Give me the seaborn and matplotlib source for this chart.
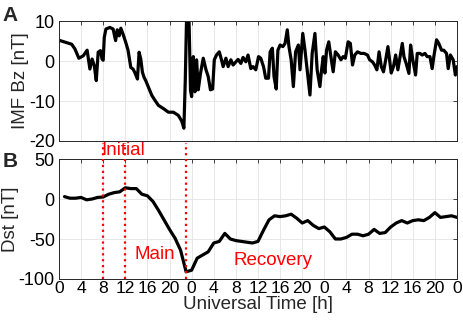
import numpy as np
import matplotlib
matplotlib.use('Agg')
import matplotlib.pyplot as plt
import pandas as pd
import seaborn as sns

# IMF Bz (nT) at irregular times (hours from start)
bz_hours = [0.0, 1.4, 2.3, 2.9, 3.6, 4.4, 5.1, 5.6, 6.0, 6.4, 6.75, 7.1, 7.5, 7.8, 8.0,
            8.2, 8.5, 9.2, 9.8, 10.25, 10.55, 10.9, 11.2, 11.6, 12.1, 12.5, 13.0, 13.4,
            13.7, 14.2, 14.5, 14.8, 15.1, 15.4, 15.7, 16.2, 16.8, 17.4, 18.0, 18.9, 19.8,
            20.7, 21.6, 22.2, 22.6, 22.85, 23.1, 23.5, 23.8,
            24.0, 24.3, 24.6, 24.9, 25.2, 25.6, 26.1, 26.6, 27.0, 27.4, 27.8, 28.1, 28.5,
            29.0, 29.4, 29.7, 30.2, 30.6, 31.1, 31.5, 32.0, 32.4, 32.9, 33.3, 33.8, 34.2,
            34.7, 35.1, 35.6, 36.1, 36.5, 37.0, 37.4, 37.9, 38.2, 38.6, 38.9, 39.3, 39.6,
            40.0, 40.5, 40.9, 41.3, 41.6, 42.0, 42.4, 42.8, 43.3, 43.6, 44.1, 44.5, 45.0,
            45.4, 45.8, 46.3, 46.7,
            47.2, 47.5, 47.8, 48.1, 48.4, 48.8, 49.1, 49.6, 50.0, 50.5, 51.0, 51.4, 51.8,
            52.3, 52.7, 53.1, 53.5, 54.0, 54.6, 55.2, 55.8, 56.2, 56.7, 57.1, 57.5, 57.9,
            58.3, 58.7, 59.1, 59.5, 59.8, 60.1, 60.5, 60.9, 61.3, 61.7, 62.1, 62.4, 62.8,
            63.3, 63.6, 64.0, 64.5, 64.8, 65.3, 65.7, 66.2, 66.6, 67.1, 67.5, 67.8, 68.3,
            68.7, 69.2, 69.6, 70.1, 70.4, 70.8, 71.3, 71.7, 72.0]
bz_values = [5.2, 4.6, 4.2, 3.0, 0.7, 1.3, 2.7, -2.0, 0.5, -1.2, -4.9, 2.2, 2.6, 0.5, 0.2,
             5.9, 8.0, 8.4, 8.0, 5.1, 7.8, 6.3, 8.2, 6.7, 4.6, 2.7, -1.6, -2.0,
             -2.8, -4.5, 2.2, 0.5, -2.8, -4.1, -4.9, -6.6, -8.6, -9.9, -11.1, -11.9, -12.8,
             -12.8, -13.6, -15.0, -16.8, -4.9, 12.0, 12.0, -7.4,
             -8.9, 1.1, -7.7, 0.3, -7.2, -3.1, 0.7, -2.2, -3.9, -7.2, -7.0, 0.3, 1.5,
             2.3, 0.3, -1.4, 0.7, -1.4, 0.3, -1.0, -0.2, 0.4, -0.6, 0.9, -0.2, 1.5,
             -1.9, -1.4, -2.2, 1.1, 0.7, -1.4, -4.3, -4.3, 2.3, 3.2, -3.9, -7.0, 2.7,
             4.0, 3.6, 4.4, 7.8, 3.6, 0.3, -6.4, 2.3, 4.0, -2.2, 6.9, 2.7, -3.5,
             -8.5, 1.9, 6.9, -2.2,
             -6.4, -2.2, 1.1, -3.0, 2.7, 4.8, 1.9, -2.7, 2.3, 1.5, 0.3, 1.1, 0.7,
             4.8, 4.4, -1.0, 1.5, 2.3, 1.9, 1.9, 1.5, 0.3, -0.2, -1.0, -2.2, 2.3,
             -1.4, -2.7, 0.3, 3.6, 0.3, -3.0, -1.4, 1.5, -2.2, 1.1, 4.4, 1.1, -0.6,
             -3.1, 4.0, 0.3, -3.5, 1.9, 1.9, 1.5, 1.9, 1.1, 1.1, -1.9, 1.1, 5.3,
             4.4, 2.7, 2.7, 1.9, -1.9, 1.5, 0.3, -3.5, -1.4]

# Dst index (nT), hourly values
dst_hours = list(range(1, 73))
dst_values = [3, 1, 1, 2, -1, 0, 2, 2.5, 6, 8, 9, 14, 13, 13, 6, 4, -3, -14, -26, -38,
              -49, -64, -91, -89, -74, -70, -66, -55, -53, -43, -50, -52, -53, -54, -55, -53,
              -39, -26, -21, -22, -21, -19, -24, -30, -27, -33, -37, -35, -41, -50, -50, -48,
              -44, -44, -46, -44, -38, -43, -42, -35, -30, -27, -30, -27, -26, -27, -23, -17,
              -23, -22, -21, -23]

# storm phase boundaries (hours)
phase_hours = [8, 12, 23]
phase_names = ['Initial', 'Main', 'Recovery']
phase_label_x = [7.6, 13.7, 31.5]
phase_label_y = [61, -70, -77]

xticks = list(range(0, 73, 4))
xticklabels = [str(h % 24) for h in xticks]

sns.set_style('whitegrid')
plt.rcParams['font.family'] = ['Liberation Sans', 'DejaVu Sans']
plt.rcParams['axes.unicode_minus'] = False
fs = 13

fig = plt.figure(figsize=(4.64, 3.26), dpi=100)
ax1 = fig.add_axes([0.127, 0.5675, 0.858, 0.368])
ax2 = fig.add_axes([0.127, 0.1442, 0.858, 0.368])

bz_df = pd.DataFrame({'t': bz_hours, 'bz': bz_values})
dst_df = pd.DataFrame({'t': dst_hours, 'dst': dst_values})

sns.lineplot(data=bz_df, x='t', y='bz', ax=ax1, color='black', lw=2.3)
sns.lineplot(data=dst_df, x='t', y='dst', ax=ax2, color='black', lw=2.3)

ax1.set_ylim(-20, 10)
ax1.set_yticks([-20, -10, 0, 10])
ax2.set_ylim(-100, 50)
ax2.set_yticks([-100, -50, 0, 50])

for ax in (ax1, ax2):
    ax.set_xlim(0, 72)
    ax.set_xticks(xticks)
    ax.grid(True, color='#e3e3e3', lw=0.6)
    ax.tick_params(direction='in', length=3, width=0.6, top=True, right=True,
                   colors='#262626', labelcolor='black', labelsize=fs, pad=1.5)
    ax.tick_params(axis='y', pad=3)
    for s in ax.spines.values():
        s.set_color('#262626')
        s.set_linewidth(0.7)
    ax.set_xlabel('')

ax1.set_xticklabels([])
ax2.set_xticklabels(xticklabels)
ax2.tick_params(axis='x', labelsize=12.6)

ax1.set_ylabel('IMF Bz [nT]', fontsize=13.5, labelpad=0)
ax2.set_ylabel('Dst [nT]', fontsize=13.5, labelpad=0)
ax2.set_xlabel('Universal Time [h]', fontsize=13.5, labelpad=0)

ax2.vlines(phase_hours, -100, 70, colors='red', linestyles=':', lw=1.6, clip_on=False, zorder=3)
for name, x, y in zip(phase_names, phase_label_x, phase_label_y):
    ax2.text(x, y, name, color='red', fontsize=13.5, ha='left', va='center', clip_on=False)

fig.text(0.006, 0.982, 'A', fontsize=15, fontweight='bold', va='top')
fig.text(0.006, 0.533, 'B', fontsize=15, fontweight='bold', va='top')

fig.savefig('out.png', dpi=100)
